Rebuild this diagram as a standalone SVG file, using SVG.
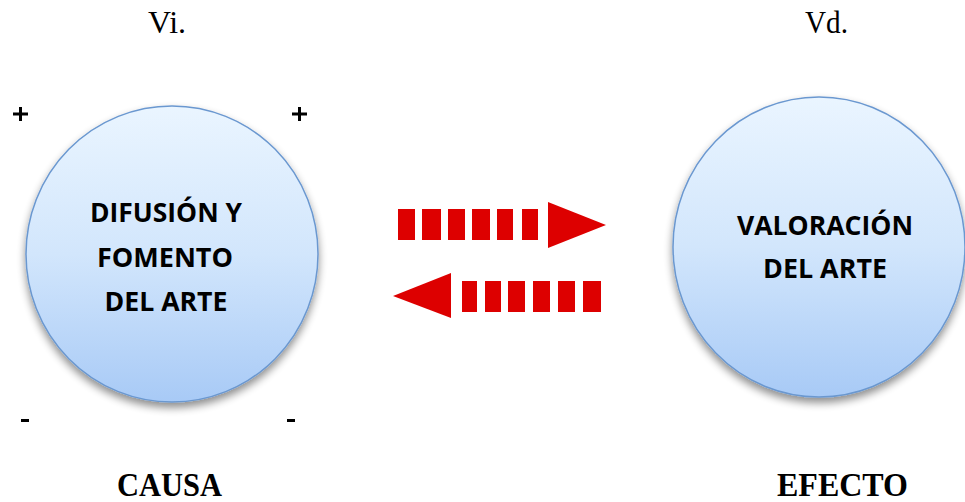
<svg xmlns="http://www.w3.org/2000/svg" width="965" height="502" viewBox="0 0 965 502">
<style>
.lbl{font-family:"Liberation Serif","Times New Roman",serif;font-size:32px;fill:#000}
.big{font-family:"Liberation Serif","Times New Roman",serif;font-size:34px;font-weight:bold;fill:#000}
.node{font-family:"Open Sans",Lato,"Liberation Sans",sans-serif;font-size:26px;font-weight:bold;fill:#000;text-anchor:middle}
.circ{fill:url(#g);stroke:#6b98d0;stroke-width:1.5;filter:url(#sh)}
.arr{fill:#dd0000}
</style>
<defs>
<linearGradient id="g" x1="0" y1="0" x2="0" y2="1">
<stop offset="0" stop-color="#eaf5ff"/>
<stop offset="0.5" stop-color="#d2e6fc"/>
<stop offset="1" stop-color="#a8caf6"/>
</linearGradient>
<filter id="sh" x="-20%" y="-20%" width="140%" height="150%">
<feGaussianBlur in="SourceAlpha" stdDeviation="4"/>
<feOffset dy="5" result="b"/>
<feComponentTransfer><feFuncA type="linear" slope="0.45"/></feComponentTransfer>
<feMerge><feMergeNode/><feMergeNode in="SourceGraphic"/></feMerge>
</filter>
</defs>
<rect width="965" height="502" fill="#fff"/>
<text class="lbl" x="148" y="33" textLength="38" lengthAdjust="spacingAndGlyphs">Vi.</text>
<text class="lbl" x="805" y="33" textLength="43" lengthAdjust="spacingAndGlyphs">Vd.</text>
<g id="causa">
<ellipse class="circ" cx="172" cy="254" rx="146" ry="148"/>
<text class="node" x="166" y="222" textLength="152" lengthAdjust="spacingAndGlyphs">DIFUSIÓN Y</text>
<text class="node" x="165" y="267" textLength="136" lengthAdjust="spacingAndGlyphs">FOMENTO</text>
<text class="node" x="166" y="311" textLength="123" lengthAdjust="spacingAndGlyphs">DEL ARTE</text>
</g>
<g id="efecto">
<ellipse class="circ" cx="819" cy="247" rx="146" ry="150"/>
<text class="node" x="825" y="235" textLength="176" lengthAdjust="spacingAndGlyphs">VALORACIÓN</text>
<text class="node" x="825" y="278" textLength="124" lengthAdjust="spacingAndGlyphs">DEL ARTE</text>
</g>
<g id="signs">
<rect x="13" y="112.5" width="15" height="3"/>
<rect x="19" y="107" width="3" height="14"/>
<rect x="292" y="112.5" width="15" height="3"/>
<rect x="298" y="107" width="3" height="14"/>
<rect x="21" y="419" width="8" height="3"/>
<rect x="287" y="419" width="8" height="3"/>
</g>
<g id="connectors">
<g class="arr">
<rect x="398" y="209" width="17" height="31"/>
<rect x="422" y="209" width="19" height="31"/>
<rect x="448" y="209" width="17" height="31"/>
<rect x="472" y="209" width="18" height="31"/>
<rect x="497" y="209" width="16" height="31"/>
<rect x="522" y="209" width="16" height="31"/>
<polygon points="548,202 606,225 548,248"/>
<polygon points="393,296 451,273 451,318"/>
<rect x="462" y="281" width="15" height="31"/>
<rect x="485" y="281" width="16" height="31"/>
<rect x="508" y="281" width="17" height="31"/>
<rect x="533" y="281" width="17" height="31"/>
<rect x="558" y="281" width="17" height="31"/>
<rect x="583" y="281" width="18" height="31"/>
</g>
</g>
<text class="big" x="117" y="496" textLength="105" lengthAdjust="spacingAndGlyphs">CAUSA</text>
<text class="big" x="777" y="496" textLength="131" lengthAdjust="spacingAndGlyphs">EFECTO</text>
</svg>
